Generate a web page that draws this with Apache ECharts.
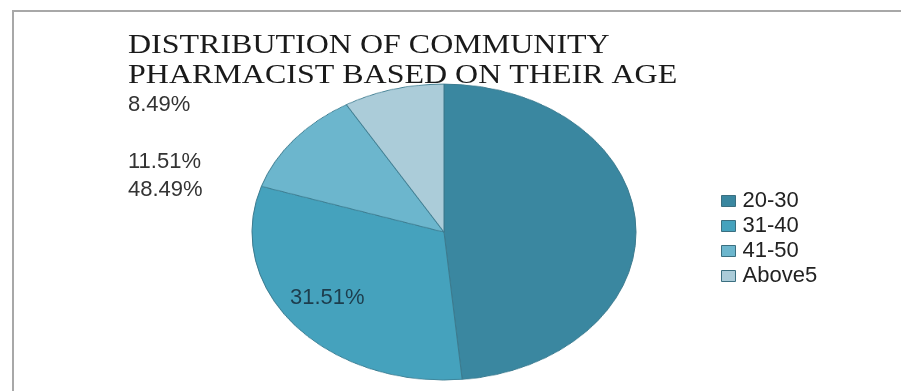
<!DOCTYPE html>
<html>
<head>
<meta charset="utf-8">
<script src="https://cdn.jsdelivr.net/npm/echarts@6/dist/echarts.min.js"></script>
<style>
  html, body { margin: 0; padding: 0; background: #fff; }
  .wrap { position: relative; width: 901px; height: 391px; overflow: hidden; }
  /* the pie in the picture is an ellipse, so its own chart is squashed vertically */
  .pie-chart { position: absolute; left: 0; top: 0; width: 901px; height: 507px;
               transform: scaleY(0.771); transform-origin: 0 0; }
  .main-chart { position: absolute; left: 0; top: 0; width: 901px; height: 391px; }
</style>
</head>
<body>
<div class="wrap">
  <div class="pie-chart" id="pieChart"></div>
  <div class="main-chart" id="mainChart"></div>
</div>
<script>
const categories = ['20-30', '31-40', '41-50', 'Above5'];
const shares = [48.49, 31.51, 11.51, 8.49];
const colors = ['#3a87a0', '#45a2bd', '#6cb6cd', '#abccd9'];
const titleLines = ['DISTRIBUTION OF COMMUNITY', 'PHARMACIST BASED ON THEIR AGE'];

const pieData = categories.map((name, i) => ({ name: name, value: shares[i] }));
const pct = v => v.toFixed(2) + '%';

// pie itself
const pieChart = echarts.init(document.getElementById('pieChart'));
pieChart.setOption({
  animation: false,
  color: colors,
  series: [{
    type: 'pie',
    center: [444, 301],
    radius: 192,
    startAngle: 90,
    clockwise: true,
    label: { show: false },
    labelLine: { show: false },
    emphasis: { scale: false },
    itemStyle: { borderColor: '#3b7a8e', borderWidth: 1 },
    data: pieData
  }]
});

// title, legend, labels and frame on top
const mainChart = echarts.init(document.getElementById('mainChart'));
const labelPos = [[128, 190], [290, 298], [128, 162], [128, 105]];
const labelColor = ['#333', '#1d3d4d', '#333', '#333'];

mainChart.setOption({
  animation: false,
  color: colors,
  legend: {
    orient: 'vertical',
    left: 721,
    top: 190,
    padding: 0,
    itemWidth: 14,
    itemHeight: 11,
    itemGap: 3,
    icon: 'rect',
    itemStyle: { borderColor: '#3b6f80', borderWidth: 1 },
    textStyle: { fontFamily: 'Liberation Sans', fontSize: 22, lineHeight: 22, color: '#222', padding: [0, 0, 0, 2] },
    data: categories
  },
  graphic: [
    {
      type: 'polyline',
      shape: { points: [[13, 391], [13, 11], [901, 11]] },
      style: { stroke: '#a8a8a8', lineWidth: 2, fill: null },
      silent: true
    },
    ...titleLines.map((t, i) => ({
      type: 'text',
      x: 128,
      y: 46 + i * 30,
      scaleX: 1.185,
      originX: 0,
      style: {
        text: t,
        font: '27px "Liberation Serif"',
        fill: '#1a1a1a',
        textVerticalAlign: 'middle'
      },
      silent: true
    })),
    ...shares.map((v, i) => ({
      type: 'text',
      x: labelPos[i][0],
      y: labelPos[i][1],
      style: {
        text: pct(v),
        font: '22px "Liberation Sans"',
        fill: labelColor[i],
        textVerticalAlign: 'middle'
      },
      silent: true
    }))
  ],
  series: [{
    // keeps the legend tied to the categories; the visible pie is in the chart below
    type: 'pie',
    center: [-100, -100],
    radius: 0,
    silent: true,
    label: { show: false },
    data: pieData
  }]
});
</script>
</body>
</html>
